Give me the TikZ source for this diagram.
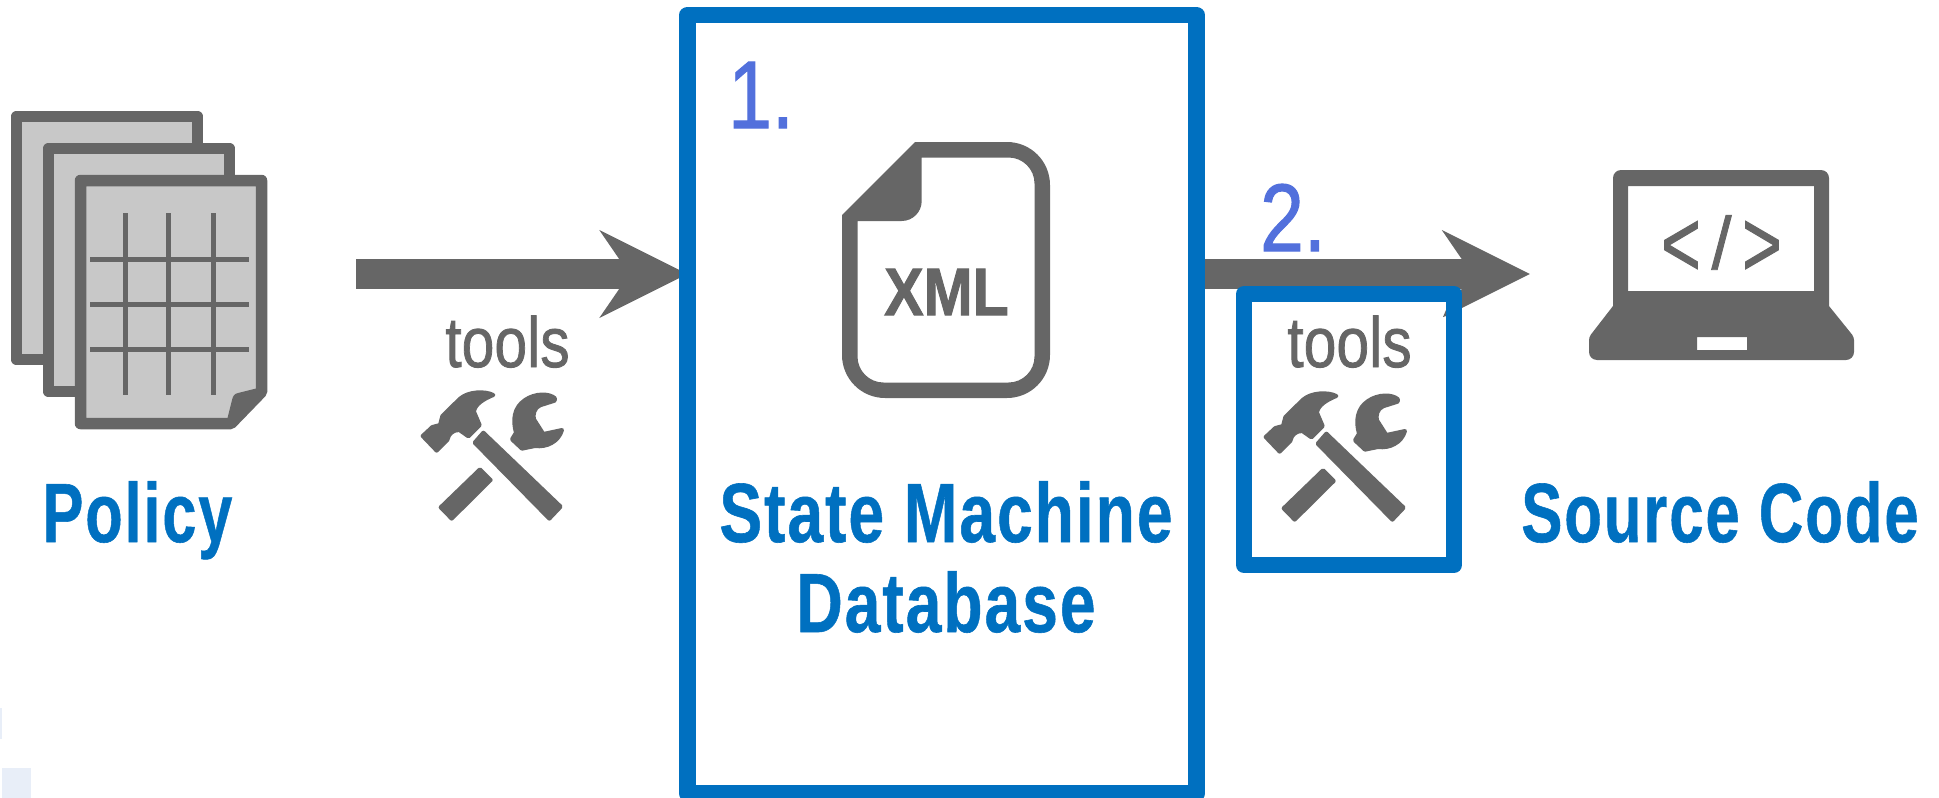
\documentclass[tikz,border=0pt]{standalone}
\usepackage{fontspec}
\setmainfont{Liberation Sans}
\newfontfamily\labelfont[LetterSpace=3,Kerning=Off,BoldFeatures={FakeBold=0.7}]{Liberation Sans}
\newfontfamily\heavyfont[FakeBold=1.2]{Liberation Sans}
\newfontfamily\xmlfont[BoldFeatures={FakeBold=1.5}]{Liberation Sans}
\usetikzlibrary{arrows.meta,backgrounds}
\definecolor{icongray}{HTML}{666666}
\definecolor{sheetgray}{HTML}{C8C8C8}
\definecolor{boxblue}{HTML}{0070C0}
\definecolor{numblue}{HTML}{5270DC}
\definecolor{paleblue}{HTML}{E8EEF8}
\tikzset{
  x=1pt,y=-1pt,
  frame/.style={draw=boxblue,rectangle,outer sep=0pt,inner sep=0pt,line join=round},
  bluelabel/.style={text=boxblue,anchor=base,inner sep=0pt,align=center,font=\labelfont\bfseries\fontsize{84}{90}\selectfont},
  numlabel/.style={text=numblue,anchor=base west,xscale=.82,inner sep=0pt,font=\heavyfont\fontsize{96}{96}\selectfont},
  toolstext/.style={text=icongray,anchor=base,xscale=.83,inner sep=0pt,font=\heavyfont\fontsize{71}{71}\selectfont},
  sheet/.style={draw=icongray,fill=sheetgray,line width=11.5pt,line join=round},
  gridline/.style={draw=icongray,line width=5pt},
  bigarrow/.style={draw=icongray,fill=icongray,line width=30pt,-{Stealth[length=87pt,width=86pt,inset=29pt]}},
  iconfill/.style={fill=icongray,draw=icongray,line width=4pt,line join=round},
  toolicon/.pic={
    \begin{scope}[scale=1/3]
      \path[iconfill] (68,408) -- (97,381) -- (120,375) -- (127,348) -- (180,296)
        .. controls (205,274) and (255,272) .. (280,285)
        .. controls (255,295) and (224,312) .. (222,335) -- (239,375) -- (205,409)
        -- (178,390) .. controls (160,390) and (146,400) .. (142,420) -- (110,452) -- cycle;
      \path[iconfill] (250,398) -- (482,620) -- (448,656) -- (224,428) -- cycle;
      \path[iconfill] (240,508) -- (272,540) -- (155,656) -- (122,622) -- cycle;
      \path[iconfill] (336,418) -- (348,398) .. controls (337,360) and (342,322) .. (375,300)
        .. controls (405,279) and (448,279) .. (465,295) -- (464,302) -- (420,316)
        .. controls (403,323) and (398,345) .. (402,358) -- (430,402) -- (486,390)
        .. controls (476,425) and (440,443) .. (405,438) -- (366,446) -- cycle;
    \end{scope}
  }
}
\begin{document}
\begin{tikzpicture}
\useasboundingbox (0,0) rectangle (1939,798);
% faint marks at the lower-left edge
\fill[paleblue] (0,708) rectangle (2,739);
\fill[paleblue] (1.5,768) rectangle (31,798);

% policy sheets
\draw[sheet] (16.5,116.5) rectangle (197.5,359.5);
\draw[sheet] (48.5,148.5) rectangle (229.5,391.5);
\draw[sheet] (80.5,180.5) -- (261.5,180.5) -- (261.5,392) -- (231,423.5) -- (80.5,423.5) -- cycle;
\fill[icongray] (262,387) -- (238,393) .. controls (234,394) and (233,396) .. (232,400) -- (227,420) -- (232,428) -- (266,394) -- cycle;
\foreach \xx in {125,168,213} \draw[gridline] (\xx,213) -- (\xx,395);
\foreach \yy in {259,304,349} \draw[gridline] (90,\yy) -- (249,\yy);

\coordinate (policyout) at (356,274);
\coordinate (codein) at (1530,274);

% frames
\node[frame,line width=16.5pt,minimum width=509pt,minimum height=778.5pt] (db) at (942,404.25) {};
\node[frame,fill=white,line width=16pt,minimum width=210pt,minimum height=271pt] (toolsbox) at (1349,429.5) {};

\begin{pgfonlayer}{background}
  \draw[bigarrow] (policyout) -- (policyout -| db.west);
  \draw[bigarrow] (codein -| db.east) -- (codein);
\end{pgfonlayer}
\fill[icongray] (1446,310) -- (1443,317) -- (1446,316) -- cycle;

% tools
\node[toolstext] (toolsa) at (507.5,367) {tools};
\pic at (400,300) {toolicon};
\node[toolstext] (toolsb) at (1349.5,367) {tools};
\pic at (1243,301) {toolicon};

% XML file
\path[fill=icongray,even odd rule]
  (842,215) -- (915,142) [rounded corners=43pt] -- (1050,142) -- (1050,398) -- (842,398) [sharp corners] -- cycle
  (857.5,221) [rounded corners=20pt] -- (921.7,221) [sharp corners] -- (921.7,157.5)
  [rounded corners=26pt] -- (1034.5,157.5) -- (1034.5,382.5) -- (857.5,382.5) [sharp corners] -- cycle;
\node[text=icongray,anchor=base,xscale=.88,inner sep=0pt,font=\xmlfont\bfseries\fontsize{67}{67}\selectfont] (xml) at (946.5,315) {XML};

% laptop
\path[fill=icongray,even odd rule]
  [rounded corners=8pt] (1613,250) -- (1613,170) -- (1829,170) [sharp corners] -- (1829,306)
  [rounded corners=3pt] -- (1854,337) [rounded corners=8pt] -- (1854,360) -- (1589,360) [rounded corners=3pt] -- (1589,337) [sharp corners] -- (1613,306) -- cycle
  (1628,186) rectangle (1814,291)
  (1697,337) rectangle (1747,350);
\node[text=icongray,anchor=base,xscale=.72,inner sep=0pt,font=\heavyfont\fontsize{94}{94}\selectfont] (code) at (1721.5,276) {<\hspace{15pt}\raisebox{7pt}{\fontsize{74}{74}\selectfont\scalebox{1.35}[1]{/}}\hspace{15pt}>};

% labels
\node[bluelabel,xscale=.73] (policy) at (137.5,542) {Policy};
\node[bluelabel,xscale=.765] (dblabel) at (946,632) {State Machine\\Database};
\node[bluelabel,xscale=.735] (source) at (1720,542) {Source Code};
\node[numlabel] (one) at (728,128) {1.};
\node[numlabel] (two) at (1260,251) {2.};
\end{tikzpicture}
\end{document}
